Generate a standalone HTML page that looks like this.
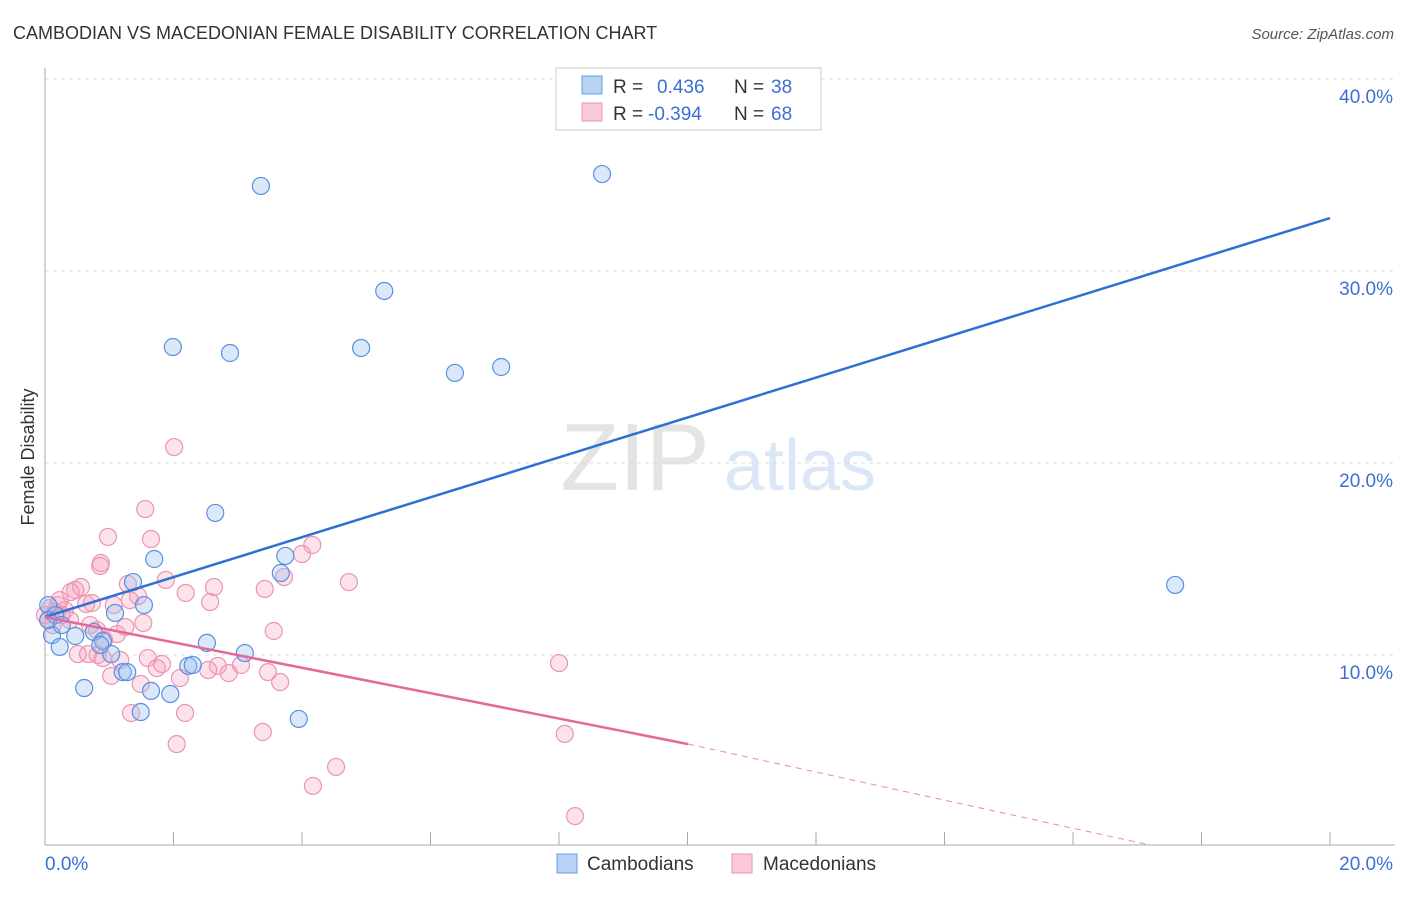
<!DOCTYPE html>
<html><head><meta charset="utf-8"><style>
body{margin:0;background:#fff;font-family:"Liberation Sans",sans-serif}
svg text{font-family:"Liberation Sans",sans-serif}
</style></head><body>
<svg id="c" width="1406" height="892">
<text x="13" y="39" font-size="18" fill="#333">CAMBODIAN VS MACEDONIAN FEMALE DISABILITY CORRELATION CHART</text>
<text x="1394" y="39" font-size="15" fill="#555" font-style="italic" text-anchor="end">Source: ZipAtlas.com</text>
<g><text x="635" y="490" font-size="96" fill="#e4e4e4" text-anchor="middle" font-family="Liberation Serif">ZIP</text><text x="800" y="490" font-size="72" fill="#dbe6f6" text-anchor="middle">atlas</text></g>
<text transform="translate(34,457) rotate(-90)" font-size="18" fill="#333" text-anchor="middle">Female Disability</text>
<g id="grid"></g><g id="marks"></g>
<g>
<rect x="556" y="68" width="265" height="62" fill="#fff" stroke="#ccc"/>
<rect x="582" y="76" width="20" height="18" fill="#b8d2f5" stroke="#6a9be2"/>
<rect x="582" y="103" width="20" height="18" fill="#fbc9d8" stroke="#eb95b1"/>
<text x="613" y="93" font-size="19" fill="#333">R = </text><text x="657" y="93" font-size="19" fill="#3b6fd6">0.436</text>
<text x="734" y="93" font-size="19" fill="#333">N = </text><text x="771" y="93" font-size="19" fill="#3b6fd6">38</text>
<text x="613" y="120" font-size="19" fill="#333">R = </text><text x="648" y="120" font-size="19" fill="#3b6fd6">-0.394</text>
<text x="734" y="120" font-size="19" fill="#333">N = </text><text x="771" y="120" font-size="19" fill="#3b6fd6">68</text>
</g>
<g>
<rect x="557" y="854" width="20" height="19" fill="#b8d2f5" stroke="#6a9be2"/><text x="587" y="870" font-size="19" fill="#333">Cambodians</text>
<rect x="732" y="854" width="20" height="19" fill="#fbc9d8" stroke="#eb95b1"/><text x="763" y="870" font-size="19" fill="#333">Macedonians</text>
</g>
</svg>
<script>
const xTicks=[0,20];
const xTickLabels=["0.0%","20.0%"];
const yTicks=[10,20,30,40];
const yTickLabels=["10.0%","20.0%","30.0%","40.0%"];
const cambX=[3.36,8.67,5.28,1.99,2.88,4.92,6.38,7.10,2.65,1.70,3.74,3.67,1.37,1.54,1.09,17.59,0.05,0.16,0.11,0.23,0.47,0.76,0.90,1.03,2.52,3.11,2.23,2.30,1.21,1.65,1.95,0.61,1.49,3.95,0.05,0.26,1.28,0.86];
const cambY=[34.43,35.05,28.96,26.04,25.73,25.99,24.69,25.0,17.40,15.0,15.16,14.27,13.80,12.60,12.19,13.65,12.6,12.08,11.04,10.42,10.99,11.2,10.73,10.05,10.63,10.10,9.43,9.48,9.11,8.13,7.97,8.28,7.03,6.67,11.82,11.56,9.11,10.52];
const macX=[2.01,1.56,0.98,1.65,0.87,0.86,4.16,4.00,1.88,1.29,4.73,0.56,0.47,2.63,3.42,3.72,2.19,1.45,2.57,0.73,0.64,1.07,0.20,0.31,0.39,0.26,0.16,0.05,1.25,1.12,0.81,3.56,0.92,0.51,0.67,0.82,1.17,1.60,1.82,1.74,2.69,2.54,2.86,3.05,3.47,3.66,1.03,1.49,2.10,8.00,1.34,2.18,2.05,3.39,8.09,4.53,4.17,8.25,1.53,0.40,0.90,0.08,0.0,0.12,0.23,0.70,1.32];
const macY=[20.83,17.60,16.15,16.04,14.79,14.64,15.73,15.26,13.91,13.70,13.80,13.54,13.39,13.54,13.44,14.06,13.23,13.07,12.76,12.71,12.66,12.60,12.60,12.34,11.82,12.08,12.24,11.82,11.46,11.09,11.30,11.25,10.78,10.05,10.05,10.0,9.74,9.84,9.53,9.32,9.43,9.22,9.06,9.48,9.11,8.59,8.91,8.49,8.80,9.58,6.98,6.98,5.36,5.99,5.89,4.17,3.18,1.61,11.67,13.28,9.84,12.45,12.08,11.56,12.86,11.56,12.86];
const cambTrend=[[0,11.98],[20,32.76]];
const macTrendSolid=[[0,11.98],[10.01,5.36]];
const macTrendDash=[[10.01,5.36],[17.2,0.1]];
const NS="http://www.w3.org/2000/svg";
const sx=v=>45+v*64.25, sy=v=>847-v*19.2;
const grid=document.getElementById('grid'), marks=document.getElementById('marks');
function mk(tag,attrs,parent){const e=document.createElementNS(NS,tag);for(const k in attrs)e.setAttribute(k,attrs[k]);parent.appendChild(e);return e;}
yTicks.forEach((t,i)=>{
 const l=mk('line',{x1:45,x2:1395,y1:sy(t),y2:sy(t),stroke:'#ddd','stroke-dasharray':'4,4'},grid);
 
 
 const tx=mk('text',{x:1393,y:sy(t)+24,'font-size':19,fill:'#3b6fd6','text-anchor':'end'},grid);tx.textContent=yTickLabels[i];
 
 
});
const ax=mk('line',{x1:45,x2:45,y1:68,y2:845,stroke:'#aaa'},grid);


const bx=mk('line',{x1:45,x2:1395,y1:845,y2:845,stroke:'#aaa'},grid);


for(let k=0;k<=10;k++){const t=mk('line',{x1:sx(k*2),x2:sx(k*2),y1:832,y2:845,stroke:'#aaa'},grid);
 
 }
xTicks.forEach((t,i)=>{const tx=mk('text',{x:i?1393:45,y:870,'font-size':19,fill:'#3b6fd6','text-anchor':i?'end':'start'},grid);tx.textContent=xTickLabels[i];
 
 });
macX.forEach((x,i)=>{const c=mk('circle',{cx:sx(x),cy:sy(macY[i]),r:8.5,fill:'rgba(245,160,190,0.3)',stroke:'#eb95b1','stroke-width':1.2},marks);
 
 });
cambX.forEach((x,i)=>{const c=mk('circle',{cx:sx(x),cy:sy(cambY[i]),r:8.5,fill:'rgba(150,190,240,0.35)',stroke:'#5b8fe0','stroke-width':1.2},marks);
 
 });
const l1=mk('line',{x1:sx(cambTrend[0][0]),y1:sy(cambTrend[0][1]),x2:sx(cambTrend[1][0]),y2:sy(cambTrend[1][1]),stroke:'#2f6fd6','stroke-width':2.5},marks);


const l2=mk('line',{x1:sx(macTrendSolid[0][0]),y1:sy(macTrendSolid[0][1]),x2:sx(macTrendSolid[1][0]),y2:sy(macTrendSolid[1][1]),stroke:'#e5689a','stroke-width':2.5},marks);


const l3=mk('line',{x1:sx(macTrendDash[0][0]),y1:sy(macTrendDash[0][1]),x2:sx(macTrendDash[1][0]),y2:sy(macTrendDash[1][1]),stroke:'#e88aa8','stroke-width':1,'stroke-dasharray':'6,5'},marks);


</script>
</body></html>
